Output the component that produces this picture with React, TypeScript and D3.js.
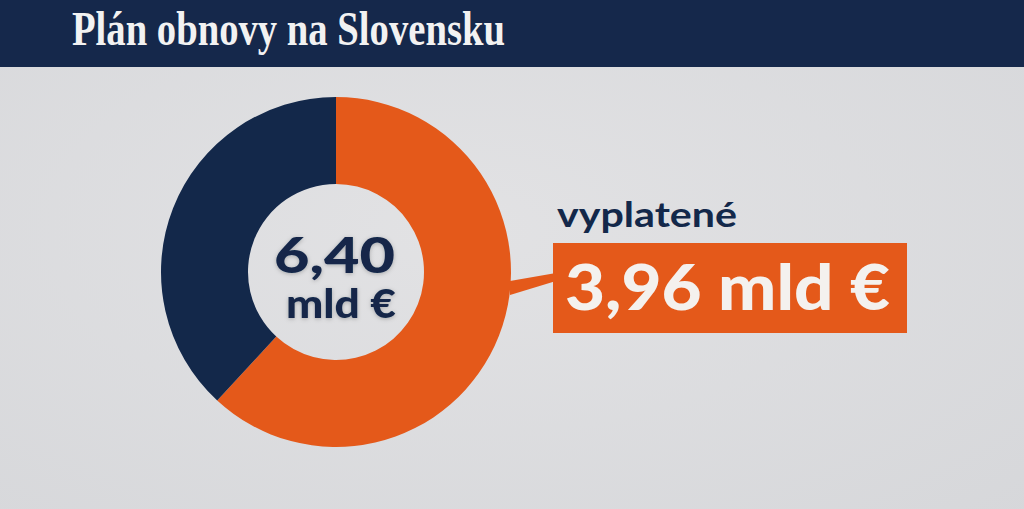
import React from "react";
import * as d3 from "d3";

const title = "Plán obnovy na Slovensku";
const categories = ["vyplatené", "zostáva"];
const values = [3.96, 2.44];
const totalLabel = "6,40";
const unitLabel = "mld €";
const paidLabel = "3,96 mld €";
const colors = ["#e4591a", "#13284a"];

const W = 1024;
const H = 509;

export default function App() {
  const cx = 336;
  const cy = 272;
  const rOuter = 175;
  const rInner = 88;
  const pie = d3.pie<number>().sort(null).startAngle(0).endAngle(2 * Math.PI);
  const arcs = pie(values);
  const arc = d3.arc<d3.PieArcDatum<number>>().innerRadius(rInner).outerRadius(rOuter);
  const font = "Lato, 'Open Sans', sans-serif";

  return (
    <svg width={W} height={H} style={{ position: "absolute", left: 0, top: 0 }}>
      <defs>
        <radialGradient id="bg" cx="0.45" cy="0.45" r="0.8">
          <stop offset="0%" stopColor="#e2e2e4" />
          <stop offset="100%" stopColor="#d6d7da" />
        </radialGradient>
        <filter id="tshadow" x="-20%" y="-20%" width="140%" height="140%">
          <feDropShadow dx="0" dy="1" stdDeviation="2" floodColor="#000" floodOpacity="0.25" />
        </filter>
      </defs>
      <rect x={0} y={0} width={W} height={H} fill="url(#bg)" />
      <rect x={0} y={0} width={W} height={67} fill="#15284b" />
      <text
        x={72}
        y={45}
        fontFamily="'Liberation Serif', 'DejaVu Serif', serif"
        fontWeight={700}
        fontSize={49}
        fill="#f2f2f2"
        textLength={433}
        lengthAdjust="spacingAndGlyphs"
      >
        {title}
      </text>

      <g transform={`translate(${cx},${cy})`}>
        {arcs.map((a, i) => (
          <path key={categories[i]} d={arc(a) || ""} fill={colors[i]} />
        ))}
        <g filter="url(#tshadow)">
          <text
            x={-62}
            y={1}
            fontFamily={font}
            fontWeight={900}
            fontSize={50}
            fill="#13284a"
            textLength={121}
            lengthAdjust="spacingAndGlyphs"
          >
            {totalLabel}
          </text>
          <text
            x={-50}
            y={46}
            fontFamily={font}
            fontWeight={900}
            fontSize={39}
            fill="#13284a"
            textLength={110}
            lengthAdjust="spacingAndGlyphs"
          >
            {unitLabel}
          </text>
        </g>
      </g>

      <polygon points="510,281 510,295 556,281 556,273" fill={colors[0]} />
      <text
        x={557}
        y={227}
        fontFamily={font}
        fontWeight={700}
        fontSize={34}
        fill="#13284a"
        textLength={180}
        lengthAdjust="spacingAndGlyphs"
      >
        {categories[0]}
      </text>
      <rect x={553} y={243} width={354} height={90} fill={colors[0]} />
      <text
        x={565}
        y={310}
        fontFamily={font}
        fontWeight={900}
        fontSize={62}
        fill="#f4f1ee"
        textLength={325}
        lengthAdjust="spacingAndGlyphs"
      >
        {paidLabel}
      </text>
    </svg>
  );
}
